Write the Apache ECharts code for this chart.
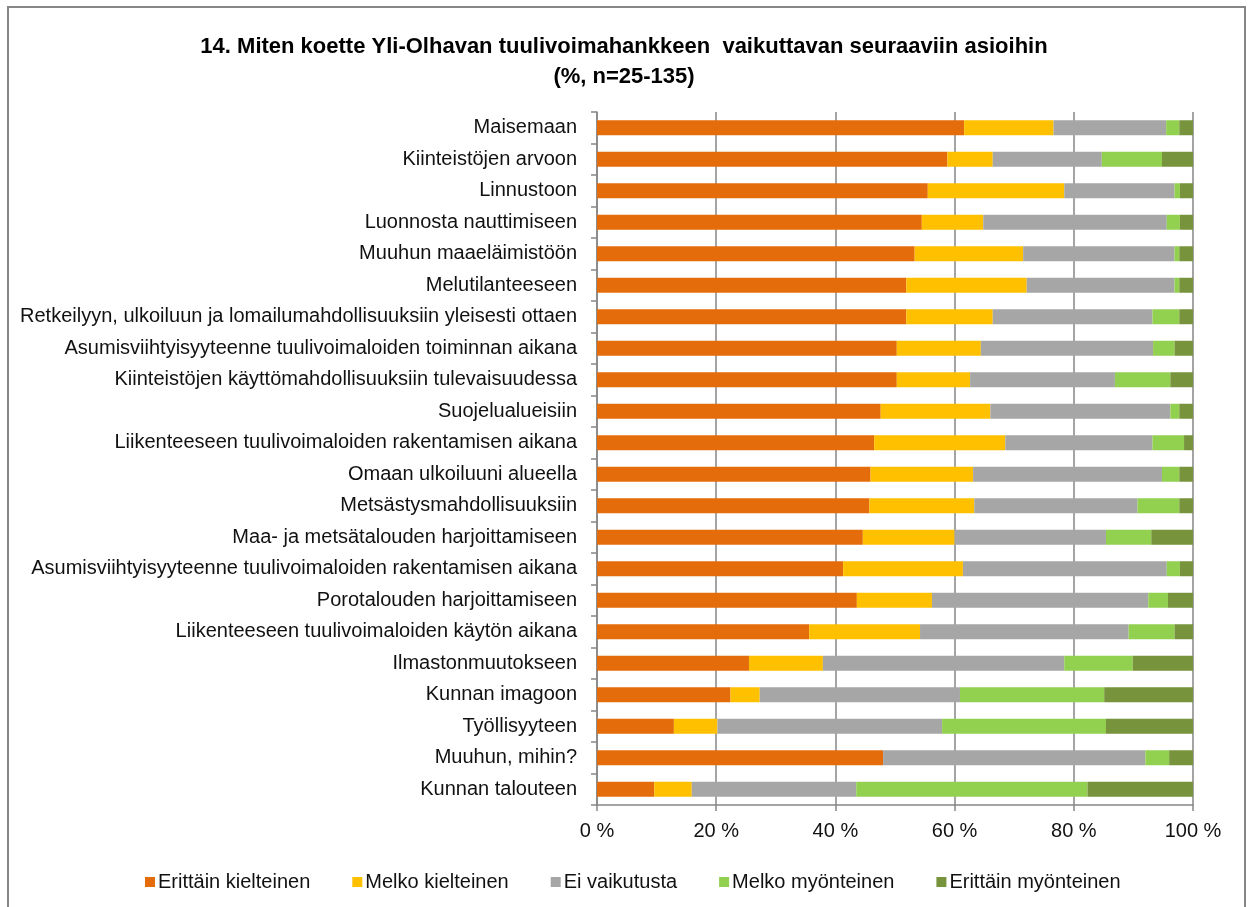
<!DOCTYPE html>
<html>
<head>
<meta charset="utf-8">
<title>Yli-Olhava</title>
<script src="https://cdn.jsdelivr.net/npm/echarts@6/dist/echarts.min.js"></script>
<style>
  html, body { margin: 0; padding: 0; background: #fff; }
  #chart { width: 1248px; height: 907px; }
</style>
</head>
<body>
<div id="chart"></div>
<script>
const categories = [
  'Maisemaan',
  'Kiinteistöjen arvoon',
  'Linnustoon',
  'Luonnosta nauttimiseen',
  'Muuhun maaeläimistöön',
  'Melutilanteeseen',
  'Retkeilyyn, ulkoiluun ja lomailumahdollisuuksiin yleisesti ottaen',
  'Asumisviihtyisyyteenne tuulivoimaloiden toiminnan aikana',
  'Kiinteistöjen käyttömahdollisuuksiin tulevaisuudessa',
  'Suojelualueisiin',
  'Liikenteeseen tuulivoimaloiden rakentamisen aikana',
  'Omaan ulkoiluuni alueella',
  'Metsästysmahdollisuuksiin',
  'Maa- ja metsätalouden harjoittamiseen',
  'Asumisviihtyisyyteenne tuulivoimaloiden rakentamisen aikana',
  'Porotalouden harjoittamiseen',
  'Liikenteeseen tuulivoimaloiden käytön aikana',
  'Ilmastonmuutokseen',
  'Kunnan imagoon',
  'Työllisyyteen',
  'Muuhun, mihin?',
  'Kunnan talouteen'
]

const erittainKielteinen = [61.6, 58.8, 55.5, 54.5, 53.3, 51.9, 51.9, 50.3, 50.3, 47.6, 46.5, 45.9, 45.7, 44.6, 41.3, 43.6, 35.6, 25.5, 22.4, 12.9, 48.0, 9.6]
const melkoKielteinen = [15.0, 7.6, 22.9, 10.3, 18.2, 20.2, 14.5, 14.1, 12.3, 18.4, 22.0, 17.2, 17.6, 15.4, 20.1, 12.6, 18.6, 12.4, 4.9, 7.3, 0, 6.3]
const eiVaikutusta = [18.9, 18.3, 18.5, 30.8, 25.4, 24.8, 26.8, 28.9, 24.3, 30.2, 24.7, 31.7, 27.4, 25.4, 34.2, 36.3, 35.0, 40.5, 33.6, 37.7, 44.0, 27.6]
const melkoMyonteinen = [2.2, 10.1, 0.9, 2.2, 0.8, 0.8, 4.5, 3.6, 9.3, 1.5, 5.3, 2.9, 7.0, 7.6, 2.2, 3.3, 7.7, 11.5, 24.2, 27.5, 4.0, 38.8]
const erittainMyonteinen = [2.3, 5.2, 2.2, 2.2, 2.3, 2.3, 2.3, 3.1, 3.8, 2.3, 1.5, 2.3, 2.3, 7.0, 2.2, 4.2, 3.1, 10.1, 14.9, 14.6, 4.0, 17.7]

const xTicks = [0, 20, 40, 60, 80, 100]

const FONT = '"Liberation Sans", Arial, sans-serif'
const AXIS_GRAY = '#868686'

const chart = echarts.init(document.getElementById('chart'))

function barSeries(name, data, color) {
  return {
    name: name,
    type: 'bar',
    stack: 'total',
    barWidth: 15,
    data: data,
    itemStyle: { color: color },
    animation: false
  }
}

chart.setOption({
  backgroundColor: '#fff',
  textStyle: { fontFamily: FONT },
  graphic: [{
    type: 'rect',
    shape: { x: 8, y: 7, width: 1237, height: 920 },
    style: { fill: 'none', stroke: AXIS_GRAY, lineWidth: 2 },
    silent: true
  }],
  title: {
    text: '14. Miten koette Yli-Olhavan tuulivoimahankkeen  vaikuttavan seuraaviin asioihin\n(%, n=25-135)',
    left: 'center',
    top: 27,
    textStyle: {
      fontFamily: FONT,
      fontSize: 22,
      fontWeight: 'bold',
      color: '#000',
      lineHeight: 30
    }
  },
  legend: {
    left: 140,
    top: 867,
    icon: 'rect',
    itemWidth: 10,
    itemHeight: 10,
    itemGap: 42,
    textStyle: { fontFamily: FONT, fontSize: 20, color: '#111', padding: [0, 0, 0, -2] },
    data: ['Erittäin kielteinen', 'Melko kielteinen', 'Ei vaikutusta', 'Melko myönteinen', 'Erittäin myönteinen']
  },
  grid: {
    left: 597,
    right: 55,
    top: 112,
    bottom: 102,
    containLabel: false
  },
  xAxis: {
    type: 'value',
    min: 0,
    max: 100,
    interval: 20,
    axisLine: { show: true, lineStyle: { color: AXIS_GRAY, width: 1.5 } },
    axisTick: { show: true, length: 6, lineStyle: { color: AXIS_GRAY, width: 1.5 } },
    axisLabel: {
      margin: 16,
      fontFamily: FONT,
      fontSize: 20,
      color: '#111',
      formatter: function (v) {
        return xTicks.indexOf(v) >= 0 ? v + ' %' : ''
      }
    },
    splitLine: { show: true, lineStyle: { color: AXIS_GRAY, width: 1.5 } }
  },
  yAxis: {
    type: 'category',
    inverse: true,
    data: categories,
    axisLine: { show: true, lineStyle: { color: AXIS_GRAY, width: 1.5 } },
    axisTick: { show: true, length: 6, lineStyle: { color: AXIS_GRAY, width: 1.5 } },
    axisLabel: {
      margin: 20,
      fontFamily: FONT,
      fontSize: 20,
      color: '#111'
    },
    splitLine: { show: false }
  },
  series: [
    barSeries('Erittäin kielteinen', erittainKielteinen, '#E46C0A'),
    barSeries('Melko kielteinen', melkoKielteinen, '#FFC000'),
    barSeries('Ei vaikutusta', eiVaikutusta, '#A6A6A6'),
    barSeries('Melko myönteinen', melkoMyonteinen, '#92D050'),
    barSeries('Erittäin myönteinen', erittainMyonteinen, '#77933C')
  ]
})
</script>
</body>
</html>
